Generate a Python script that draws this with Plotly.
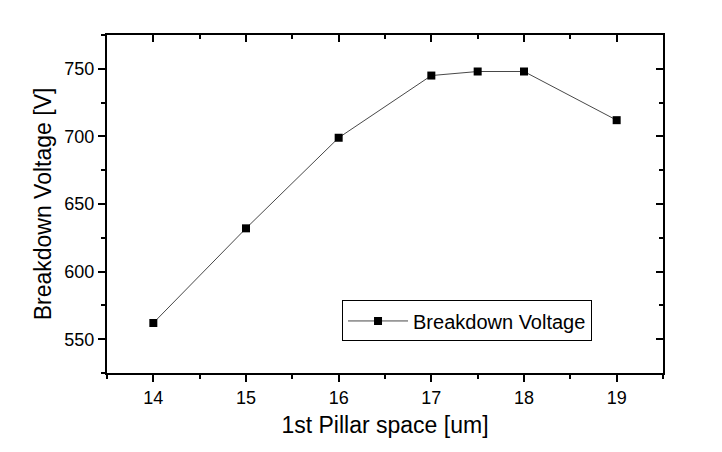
import plotly.graph_objects as go

x_vals = [14, 15, 16, 17, 17.5, 18, 19]
y_vals = [562, 632, 699, 745, 748, 748, 712]
series_name = "Breakdown Voltage"
x_title = "1st Pillar space [um]"
y_title = "Breakdown Voltage [V]"

FONT = "Liberation Sans, Arial, sans-serif"

fig = go.Figure()
fig.add_trace(go.Scatter(
    x=x_vals, y=y_vals, mode="lines+markers", name=series_name,
    line=dict(color="#333333", width=0.9),
    marker=dict(symbol="square", size=8, color="black"),
))
# invisible trace to host the mirrored (inside-tick) axes
fig.add_trace(go.Scatter(
    x=x_vals, y=y_vals, xaxis="x2", yaxis="y2", mode="markers",
    marker=dict(opacity=0), showlegend=False, hoverinfo="skip",
))

xr = [13.5, 19.5]
yr = [525, 775]

fig.update_layout(
    width=722, height=452,
    margin=dict(l=107, r=59, t=35, b=79),
    paper_bgcolor="white", plot_bgcolor="white",
    font=dict(family=FONT, color="black"),
    showlegend=True,
    legend=dict(
        x=0.4227, y=0.154, xanchor="left", yanchor="middle",
        bordercolor="black", borderwidth=1, bgcolor="white",
        font=dict(size=20, family=FONT),
        itemwidth=60,
    ),
    xaxis=dict(
        range=xr, tick0=14, dtick=1, ticks="outside", ticklen=7, tickwidth=2,
        tickcolor="black", showline=True, linewidth=2, linecolor="black",
        showgrid=False, zeroline=False, tickfont=dict(size=18),
        title=dict(text=x_title, font=dict(size=23), standoff=10),
        minor=dict(ticks="outside", dtick=0.5, ticklen=4, tickwidth=2,
                   tickcolor="black", showgrid=False),
    ),
    yaxis=dict(
        range=yr, tick0=550, dtick=50, ticks="outside", ticklen=7, tickwidth=2,
        tickcolor="black", showline=True, linewidth=2, linecolor="black",
        showgrid=False, zeroline=False, tickfont=dict(size=18),
        title=dict(text=y_title, font=dict(size=23), standoff=6),
        minor=dict(ticks="outside", dtick=25, ticklen=4, tickwidth=2,
                   tickcolor="black", showgrid=False),
    ),
    xaxis2=dict(
        overlaying="x", side="top", anchor="y2", range=xr, tick0=14, dtick=1,
        ticks="inside", ticklen=7, tickwidth=2, tickcolor="black",
        showline=True, linewidth=2, linecolor="black", showgrid=False,
        zeroline=False, showticklabels=False,
        minor=dict(ticks="inside", dtick=0.5, ticklen=4, tickwidth=2,
                   tickcolor="black", showgrid=False),
    ),
    yaxis2=dict(
        overlaying="y", side="right", anchor="x2", range=yr, tick0=550, dtick=50,
        ticks="inside", ticklen=7, tickwidth=2, tickcolor="black",
        showline=True, linewidth=2, linecolor="black", showgrid=False,
        zeroline=False, showticklabels=False,
        minor=dict(ticks="inside", dtick=25, ticklen=4, tickwidth=2,
                   tickcolor="black", showgrid=False),
    ),
)

fig.write_html("out.html")
